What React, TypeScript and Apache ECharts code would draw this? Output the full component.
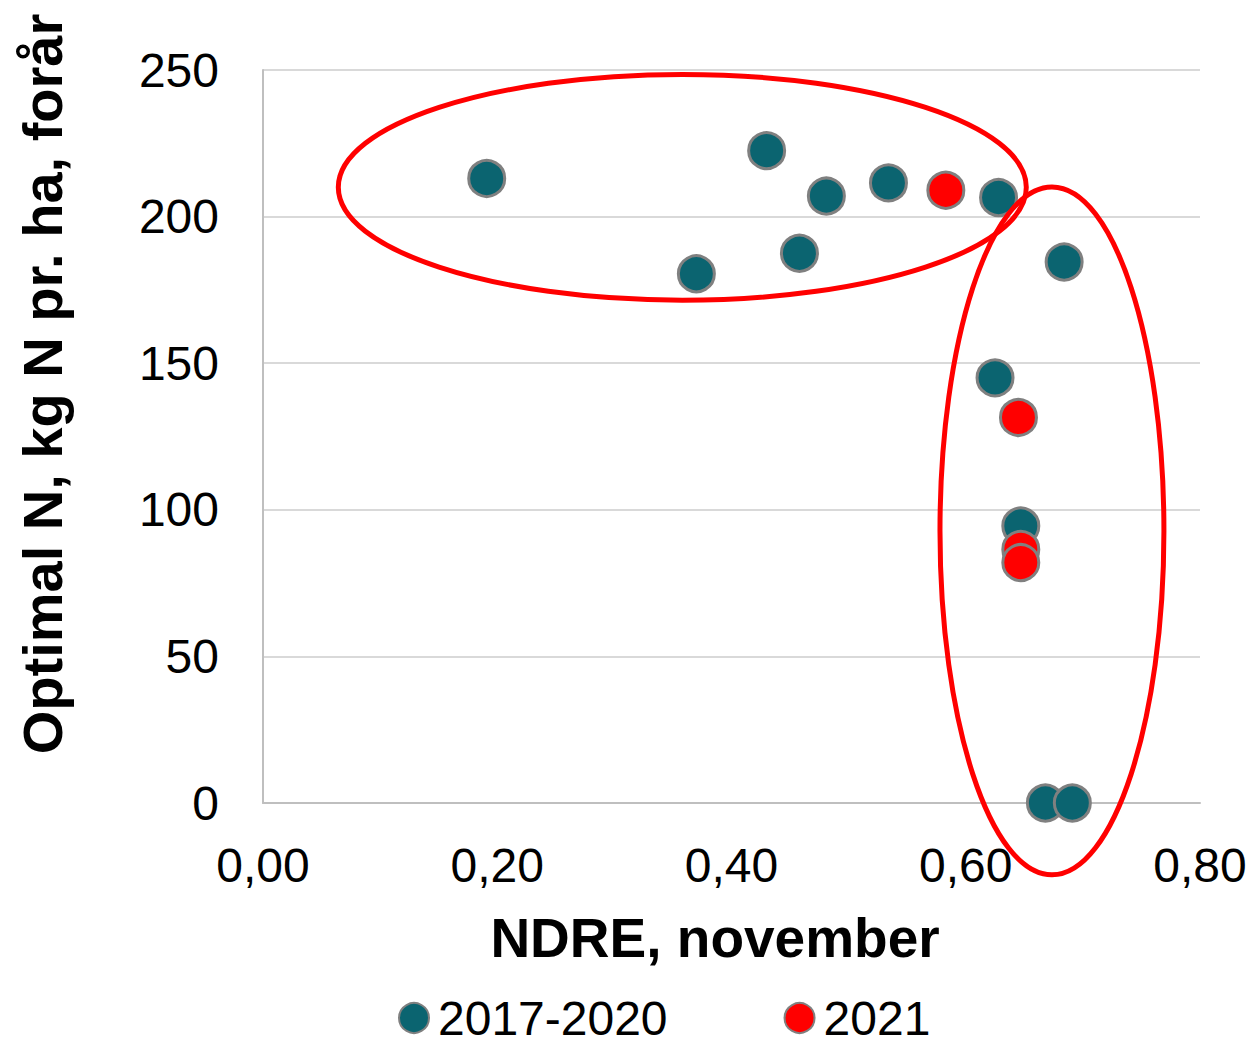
import React, { useEffect, useRef } from "react";
import * as echarts from "echarts";

const seriesNames = ["2017-2020", "2021"];
const ndre1720 = [0.191, 0.370, 0.430, 0.458, 0.481, 0.534, 0.628, 0.684, 0.625, 0.647, 0.668, 0.691];
const optN1720 = [213, 180.5, 222.5, 187.5, 207, 211.5, 206.5, 184.5, 145, 94.5, 0, 0];
const ndre21 = [0.583, 0.645, 0.647, 0.647];
const optN21 = [209, 131.5, 86.5, 82];
const xTicks = { min: 0, max: 0.8, interval: 0.2 };
const yTicks = { min: 0, max: 250, interval: 50 };
const xTitle = "NDRE, november";
const yTitle = "Optimal N, kg N pr. ha, forår";
// annotation ellipses in data units: [cx, cy, rx, ry]
const ellipses = [
  [0.358, 210, 0.2937, 38.5],
  [0.6736, 92.8, 0.0956, 117.3],
];

const TEAL = "#0b6470";
const RED = "#ff0000";
const FONT = "Liberation Sans, Arial, sans-serif";

export default function App() {
  const ref = useRef<HTMLDivElement>(null);
  useEffect(() => {
    if (!ref.current) return;
    const chart = echarts.init(ref.current, null, { renderer: "svg" });
    const pts = (xs: number[], ys: number[]) => xs.map((x, i) => [x, ys[i]]);
    chart.setOption({
      animation: false,
      backgroundColor: "#ffffff",
      textStyle: { fontFamily: FONT },
      grid: { left: 263, right: 54, top: 70, bottom: 242, containLabel: false },
      xAxis: {
        type: "value",
        min: xTicks.min,
        max: xTicks.max,
        interval: xTicks.interval,
        axisLine: { show: true, lineStyle: { color: "#bfbfbf", width: 2 } },
        axisTick: { show: false },
        splitLine: { show: false },
        axisLabel: {
          fontSize: 48,
          color: "#000",
          fontFamily: FONT,
          margin: 38,
          formatter: (v: number) => v.toFixed(2).replace(".", ","),
        },
      },
      yAxis: {
        type: "value",
        min: yTicks.min,
        max: yTicks.max,
        interval: yTicks.interval,
        axisLine: { show: true, lineStyle: { color: "#bfbfbf", width: 2 } },
        axisTick: { show: false },
        splitLine: { show: true, lineStyle: { color: "#d9d9d9", width: 2 } },
        axisLabel: { fontSize: 48, color: "#000", fontFamily: FONT, margin: 44 },
      },
      legend: {
        left: 398,
        top: 994,
        padding: 0,
        itemWidth: 30,
        itemHeight: 30,
        itemGap: 116,
        icon: "circle",
        textStyle: { fontSize: 48, color: "#000", fontFamily: FONT, padding: [0, 0, 0, 4] },
        data: seriesNames,
      },
      series: [
        {
          name: seriesNames[0],
          type: "scatter",
          data: pts(ndre1720, optN1720),
          symbolSize: 36,
          itemStyle: { color: TEAL, borderColor: "#808080", borderWidth: 3, opacity: 1 },
          z: 3,
        },
        {
          name: seriesNames[1],
          type: "scatter",
          data: pts(ndre21, optN21),
          symbolSize: 36,
          itemStyle: { color: RED, borderColor: "#808080", borderWidth: 3, opacity: 1 },
          z: 4,
        },
      ],
    });
    const graphics: any[] = ellipses.map(([cx, cy, rx, ry]) => {
      const c = chart.convertToPixel({ gridIndex: 0 }, [cx, cy]) as number[];
      const e = chart.convertToPixel({ gridIndex: 0 }, [cx + rx, cy + ry]) as number[];
      return {
        type: "ellipse",
        z: 10,
        silent: true,
        shape: { cx: c[0], cy: c[1], rx: Math.abs(e[0] - c[0]), ry: Math.abs(c[1] - e[1]) },
        style: { fill: "none", stroke: RED, lineWidth: 5 },
      };
    });
    graphics.push({
      type: "text",
      x: 715,
      y: 938,
      style: {
        text: xTitle,
        font: `bold 55px ${FONT}`,
        fill: "#000",
        textAlign: "center",
        textVerticalAlign: "middle",
      },
    });
    graphics.push({
      type: "text",
      x: 42,
      y: 384,
      rotation: Math.PI / 2,
      style: {
        text: yTitle,
        font: `bold 56px ${FONT}`,
        fill: "#000",
        textAlign: "center",
        textVerticalAlign: "middle",
      },
    });
    chart.setOption({ graphic: graphics });
    return () => chart.dispose();
  }, []);
  return <div ref={ref} style={{ width: 1254, height: 1045, position: "absolute", left: 0, top: 0 }} />;
}
